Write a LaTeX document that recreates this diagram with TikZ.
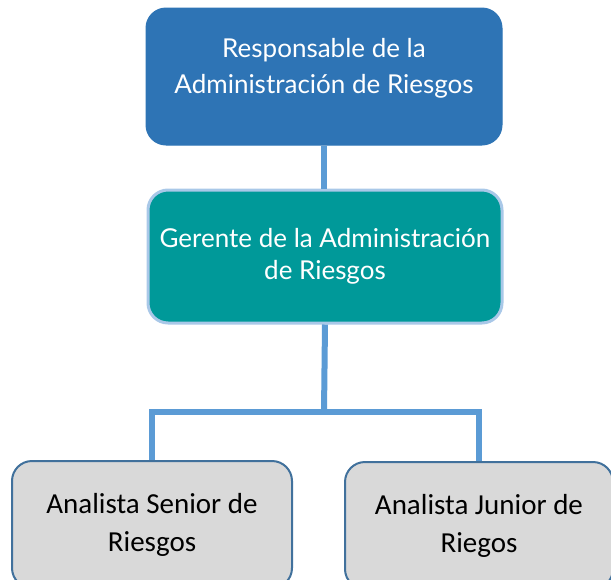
\documentclass[tikz,border=0pt]{standalone}
\usepackage{fontspec}
\setmainfont{Lato}
\newfontfamily\calibrifont{Carlito}
\usepackage{tikz}
\usetikzlibrary{positioning}

\definecolor{respblue}{HTML}{2E74B5}
\definecolor{gerteal}{HTML}{009999}
\definecolor{gerborder}{HTML}{A9C8E8}
\definecolor{linkblue}{HTML}{5B9BD5}
\definecolor{analgray}{HTML}{D9D9D9}
\definecolor{analborder}{HTML}{41719C}

\begin{document}
\begin{tikzpicture}[
    x=1pt, y=-1pt,
    box/.style={rounded corners=20pt, align=center, inner sep=0pt},
    headbox/.style={box, fill=respblue, draw=respblue, line width=1pt,
      text=white, font=\fontsize{26}{36}\selectfont},
    mgrbox/.style={box, fill=gerteal, draw=gerborder, line width=3pt,
      text=white, font=\fontsize{26}{32}\selectfont},
    analbox/.style={box, fill=analgray, draw=analborder, line width=2pt,
      minimum width=280pt, minimum height=127pt,
      font=\calibrifont\fontsize{29}{38}\selectfont},
    link/.style={draw=linkblue, line width=6pt}
  ]
    \useasboundingbox (0,0) rectangle (611,579);
    \clip (0,0) rectangle (611,579);
    \node[headbox, minimum width=356pt, minimum height=137pt] (resp) at (324,76.5)
      {\begin{tabular}{@{}c@{}}Responsable de la\\Administración de Riesgos\\[17pt]\end{tabular}};
    \node[mgrbox, minimum width=354pt, minimum height=133pt] (ger) at (325,256.5)
      {Gerente de la Administración\\de Riesgos};
    \node[analbox] (senior) at (152,524.5) {Analista Senior de\\Riesgos};
    \node[analbox, minimum width=268pt] (junior) at (479,525.5) {Analista Junior de\\Riegos};
    \coordinate (bar) at (324,412);
    \draw[link] (resp.south) -- (resp.south |- ger.north);
    \draw[link] (ger.south) -- (bar);
    \draw[link] (senior.north) -- (senior.north |- bar) -- (junior.north |- bar) -- (junior.north);
  \end{tikzpicture}
\end{document}
